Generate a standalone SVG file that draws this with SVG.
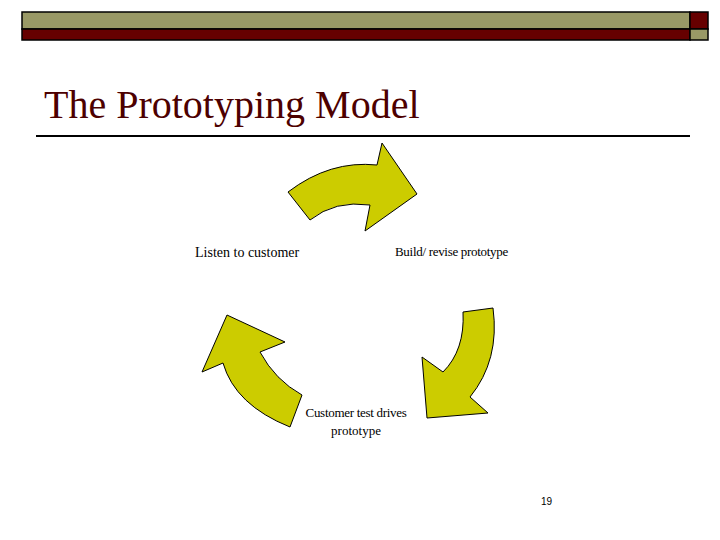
<svg xmlns="http://www.w3.org/2000/svg" width="720" height="540" viewBox="0 0 720 540">
<style>
.ar{fill:#CCCC00;stroke:#000;stroke-width:1}
.t{font-family:"Liberation Serif",serif;fill:#000}
</style>
<rect width="720" height="540" fill="#fff"/>
<g id="header" stroke="#000" stroke-width="1.5">
<rect x="22" y="12" width="668" height="17" fill="#999966"/>
<rect x="22" y="29" width="668" height="11" fill="#660000"/>
<rect x="690" y="12" width="18" height="17" fill="#660000"/>
<rect x="690" y="29" width="18" height="11" fill="#999966"/>
</g>
<text x="44" y="118" font-family="Liberation Serif,serif" font-size="40" fill="#4d0000">The Prototyping Model</text>
<line x1="36" y1="136" x2="690" y2="136" stroke="#000" stroke-width="2"/>
<g id="connectors">
<path class="ar" d="M288,192 Q330,160 377,165 L382,143 L417,194 L365,231 L370,205 Q335,200 310,220 Z"/>
<path class="ar" d="M463,312 Q465,350 443,372 L422,357 L427,418 L488,413 L470,397 Q500,360 493,308 Z"/>
<path class="ar" d="M202,372 L227,315 L285,342 L260,352 Q275,380 302,395 L290,427 Q235,405 223,363 Z"/>
</g>
<g id="listen"><text class="t" x="195" y="257" font-size="14">Listen to customer</text></g>
<g id="build"><text class="t" x="395" y="256" font-size="13" letter-spacing="-0.3">Build/ revise prototype</text></g>
<g id="test"><text class="t" x="356" y="417" font-size="13" text-anchor="middle" letter-spacing="-0.3">Customer test drives</text>
<text class="t" x="356" y="435" font-size="13" text-anchor="middle">prototype</text></g>
<text x="541" y="505" font-family="Liberation Sans,sans-serif" font-size="10">19</text>
</svg>
